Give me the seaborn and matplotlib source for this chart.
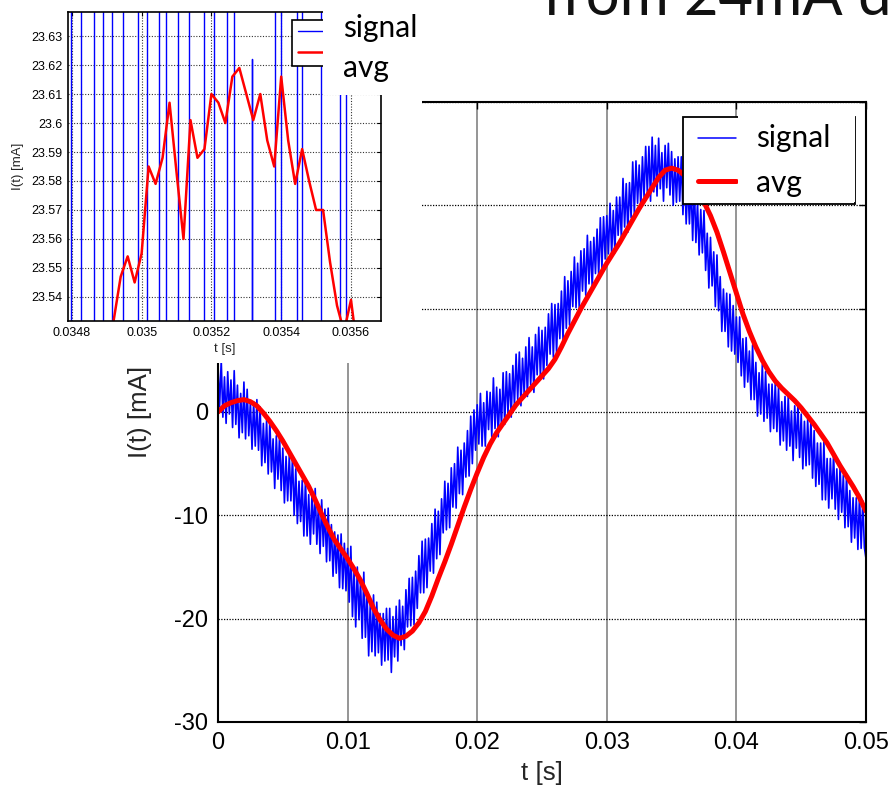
import numpy as np
import pandas as pd
import matplotlib
matplotlib.use("Agg")
import matplotlib.pyplot as plt
import seaborn as sns
from matplotlib.lines import Line2D
from matplotlib.patches import Rectangle

# ---------------- data ----------------
signal_mA = [
    4.6, 0.5, 5.0, -0.5, 3.4, -1.1, 3.9, -0.2,
    3.1, -1.5, 4.0, -1.2, 2.6, -2.5, 1.8, -2.0,
    2.9, -2.6, 2.2, -2.3, 1.0, -3.6, 1.0, -3.3,
    1.2, -3.7, 0.5, -5.2, -1.1, -4.9, -0.8, -6.0,
    -0.8, -5.8, -2.6, -7.4, -2.3, -6.5, -2.3, -7.6,
    -3.5, -8.8, -4.3, -8.6, -4.2, -8.6, -4.3, -10.0,
    -5.5, -10.8, -6.7, -10.6, -6.6, -12.0, -6.5, -12.0,
    -8.0, -12.8, -8.0, -11.8, -7.4, -12.8, -8.9, -13.7,
    -8.5, -13.0, -9.4, -14.5, -9.3, -14.4, -10.9, -15.9,
    -11.6, -15.6, -11.9, -17.0, -11.8, -17.1, -12.7, -17.3,
    -13.2, -18.4, -13.0, -19.8, -15.3, -20.8, -15.0, -20.1,
    -16.3, -21.9, -15.5, -21.8, -17.4, -23.6, -18.5, -23.2,
    -17.7, -23.6, -18.4, -23.3, -19.5, -24.5, -19.5, -24.1,
    -19.0, -24.0, -19.0, -25.2, -19.8, -23.7, -18.8, -24.1,
    -18.2, -22.6, -18.8, -23.0, -17.2, -20.8, -16.1, -20.7,
    -16.0, -20.6, -15.4, -19.0, -13.9, -17.5, -12.5, -17.5,
    -12.3, -17.0, -12.2, -15.4, -10.8, -15.6, -9.4, -14.2,
    -9.6, -13.8, -8.4, -11.7, -6.7, -11.4, -6.9, -11.2,
    -5.4, -9.2, -5.0, -9.3, -3.4, -7.9, -3.7, -8.0,
    -3.0, -6.3, -1.8, -6.2, -0.4, -5.0, 0.2, -3.7,
    0.7, -3.1, 1.8, -3.3, 0.9, -3.3, 2.0, -1.7,
    1.9, -2.4, 3.3, -1.6, 2.4, -2.4, 2.2, -1.4,
    3.8, -1.2, 3.9, -0.1, 3.7, -0.5, 4.5, 0.6,
    5.6, 1.2, 5.8, 0.6, 5.2, 1.7, 6.3, 1.5,
    7.2, 2.6, 6.3, 1.9, 7.5, 3.6, 8.2, 3.4,
    7.9, 3.2, 8.2, 4.5, 9.5, 5.6, 10.5, 5.3,
    10.4, 5.7, 10.5, 7.1, 11.7, 6.9, 13.1, 8.1,
    12.7, 8.4, 13.6, 10.2, 15.0, 10.1, 14.4, 10.0,
    15.6, 11.7, 15.8, 11.3, 17.1, 12.4, 16.5, 12.0,
    16.9, 13.4, 17.7, 13.1, 18.8, 13.9, 18.9, 14.8,
    19.0, 15.3, 20.2, 15.2, 19.5, 15.4, 20.8, 17.1,
    20.8, 16.7, 22.6, 17.9, 22.1, 17.4, 22.2, 18.8,
    24.2, 19.1, 24.3, 20.2, 23.9, 19.7, 24.7, 20.8,
    25.7, 21.2, 25.7, 20.4, 26.6, 21.3, 25.8, 20.9,
    26.5, 21.6, 25.1, 20.4, 25.8, 21.7, 26.0, 21.0,
    25.2, 20.0, 24.5, 20.3, 24.7, 20.4, 24.7, 19.1,
    23.6, 18.2, 22.3, 18.2, 22.1, 16.6, 22.1, 16.4,
    20.3, 15.2, 19.6, 15.4, 19.5, 13.7, 17.3, 12.0,
    16.9, 12.2, 15.5, 10.2, 15.2, 9.8, 13.1, 7.8,
    11.9, 7.8, 11.5, 6.3, 11.4, 5.9, 10.3, 5.6,
    9.2, 4.8, 9.2, 3.5, 7.1, 2.4, 7.2, 2.9,
    5.9, 1.2, 6.5, 1.2, 4.8, -0.4, 3.8, -0.2,
    4.6, -0.9, 3.9, -0.6, 2.7, -1.9, 2.7, -1.6,
    2.9, -1.9, 2.4, -3.2, 1.0, -2.8, 1.5, -3.7,
    1.6, -3.3, 0.1, -4.7, 0.6, -3.5, 0.8, -4.4,
    -0.2, -5.5, -0.9, -5.2, -0.7, -5.1, -0.7, -6.4,
    -1.8, -7.2, -3.0, -7.0, -3.0, -8.5, -2.9, -8.5,
    -4.5, -9.3, -4.5, -8.4, -4.0, -9.4, -5.5, -10.4,
    -5.2, -9.7, -6.1, -11.2, -6.0, -11.1, -7.6, -12.6,
    -8.3, -12.2, -8.3, -13.3, -8.0, -13.2, -8.6, -13.1,
    -14.2,
]
signal_t = np.linspace(0.0, 0.05, len(signal_mA))

avg_mA = [
    0.0, 0.6, 0.9, 1.1, 1.2, 1.0, 0.6, -0.1, -0.9, -1.8,
    -2.8, -3.9, -5.0, -6.1, -7.2, -8.5, -9.9, -11.2, -12.4, -13.3,
    -14.2, -15.2, -16.3, -17.6, -19.0, -20.1, -21.0, -21.6, -21.9, -21.7,
    -21.2, -20.4, -19.3, -17.8, -16.1, -14.5, -12.8, -11.0, -9.2, -7.5,
    -5.9, -4.4, -3.1, -2.0, -1.1, -0.2, 0.7, 1.4, 2.1, 2.8,
    3.5, 4.2, 5.1, 6.3, 7.6, 8.8, 10.0, 11.1, 12.2, 13.3,
    14.4, 15.4, 16.4, 17.5, 18.6, 19.7, 20.7, 21.7, 22.7, 23.4,
    23.6, 23.4, 22.9, 22.2, 21.3, 20.3, 19.0, 17.4, 15.5, 13.5,
    11.5, 9.5, 7.8, 6.3, 5.0, 3.9, 3.0, 2.3, 1.7, 1.1,
    0.4, -0.4, -1.2, -2.1, -3.0, -4.1, -5.2, -6.2, -7.2, -8.3,
    -9.6,
]
avg_t = np.linspace(0.0, 0.05, len(avg_mA))

main_xticks = [0.0, 0.01, 0.02, 0.03, 0.04, 0.05]
main_xticklabels = ["0", "0.01", "0.02", "0.03", "0.04", "0.05"]
main_yticks = [-30, -20, -10, 0, 10, 20, 30]
main_yticklabels = ["-30", "-20", "-10", "0", "10", "20", "30"]

# zoomed inset (around the peak)
inset_avg_mA = [
    23.50, 23.532, 23.547, 23.554, 23.545, 23.555, 23.585, 23.579, 23.588, 23.607,
    23.583, 23.560, 23.601, 23.588, 23.591, 23.610, 23.607, 23.600, 23.616, 23.619,
    23.610, 23.601, 23.610, 23.594, 23.585, 23.616, 23.594, 23.579, 23.591, 23.580,
    23.570, 23.570, 23.552, 23.537, 23.528, 23.539, 23.520,
]
inset_avg_t = np.linspace(0.0349, 0.03562, len(inset_avg_mA))

inset_sig_t = [
    0.03478, 0.034799, 0.034826, 0.034863, 0.034889, 0.034914, 0.034946, 0.034989,
    0.035014, 0.035049, 0.035071, 0.035103, 0.035137, 0.035180, 0.035206, 0.035246,
    0.035266, 0.035317, 0.0353175, 0.035383, 0.035400, 0.035446, 0.035460, 0.035514,
    0.035569, 0.035586, 0.03570,
]
inset_sig_mA = [
    21.0, 26.0, 21.0, 26.0, 21.0, 26.0, 21.0, 26.0,
    21.0, 26.0, 21.0, 26.0, 21.0, 26.0, 21.0, 26.0,
    21.0, 23.622, 21.0, 26.0, 21.0, 26.0, 21.0, 26.0,
    21.0, 26.0, 26.0,
]
inset_xticks = [0.0348, 0.0350, 0.0352, 0.0354, 0.0356]
inset_xticklabels = ["0.0348", "0.035", "0.0352", "0.0354", "0.0356"]
inset_yticks = [23.54, 23.55, 23.56, 23.57, 23.58, 23.59, 23.60, 23.61, 23.62, 23.63]
inset_yticklabels = ["23.54", "23.55", "23.56", "23.57", "23.58", "23.59",
                     "23.6", "23.61", "23.62", "23.63"]

legend_labels = ["signal", "avg"]
title_text = "from 24mA down"

# ---------------- style ----------------
sns.set_style("white")
plt.rcParams["font.family"] = ["Liberation Sans", "DejaVu Sans"]
SLIDE_FONT = ["Lato", "DejaVu Sans"]
BLUE = "#0000FF"
RED = "#FF0000"

W, H = 894, 791
fig = plt.figure(figsize=(W / 100, H / 100), dpi=100)
fig.patch.set_facecolor("white")


def fx(px):
    return px / W


def fy(py):
    return 1 - py / H


def frect(x0, y0, x1, y1, z):
    r = Rectangle((fx(x0), fy(y1)), fx(x1) - fx(x0), fy(y0) - fy(y1),
                  transform=fig.transFigure, facecolor="white",
                  edgecolor="none", zorder=z)
    fig.add_artist(r)


# ---------------- main axes ----------------
ax = fig.add_axes([fx(218), fy(722), fx(866) - fx(218), fy(102) - fy(722)])
ax.set_zorder(0)
sig_df = pd.DataFrame({"t": signal_t, "I": signal_mA})
avg_df = pd.DataFrame({"t": avg_t, "I": avg_mA})
sns.lineplot(data=sig_df, x="t", y="I", ax=ax, color=BLUE, linewidth=1.2,
             estimator=None, sort=False)
sns.lineplot(data=avg_df, x="t", y="I", ax=ax, color=RED, linewidth=3.6,
             estimator=None, sort=False)
ax.set_xlim(0, 0.05)
ax.set_ylim(-30, 30)
ax.set_xticks(main_xticks)
ax.set_xticklabels(main_xticklabels)
ax.set_yticks(main_yticks)
ax.set_yticklabels(main_yticklabels)
ax.tick_params(direction="in", top=True, right=True, length=5, width=1,
               labelsize=17, pad=7, colors="black")
ax.set_axisbelow(True)
ax.xaxis.grid(True, color="0.55", linewidth=1.3, linestyle="-")
ax.yaxis.grid(True, color="black", linewidth=0.9, linestyle=(0, (1, 1.2)))
for s in ax.spines.values():
    s.set_color("black")
    s.set_linewidth(1.5)
ax.set_xlabel("t [s]", fontsize=18.6, labelpad=5)
ax.set_ylabel("I(t) [mA]", fontsize=18.6, labelpad=16)

main_handles = [Line2D([], [], color=BLUE, linewidth=1.1),
                Line2D([], [], color=RED, linewidth=3.6)]
leg = ax.legend(main_handles, ["", ""], loc="upper left",
                bbox_to_anchor=((683 - 218) / 648, (722 - 117) / 620),
                borderaxespad=0, fontsize=10, borderpad=1.1, handleheight=0.77,
                labelspacing=2.04, handlelength=2.7, handletextpad=7.45,
                frameon=True, fancybox=False, framealpha=1, edgecolor="black")
leg.get_frame().set_linewidth(1.3)
# the slide's text box hides part of the legend frame
frect(738, 113, 855, 202, 1)

# ---------------- inset panel ----------------
frect(0, 0, 422, 363, 1)
axi = fig.add_axes([fx(68), fy(321), fx(381) - fx(68), fy(12) - fy(321)])
axi.set_zorder(2)
axi.set_facecolor("white")
sns.lineplot(x=inset_sig_t, y=inset_sig_mA, ax=axi, color=BLUE, linewidth=1.0,
             drawstyle="steps-post", estimator=None, sort=False)
sns.lineplot(x=inset_avg_t, y=inset_avg_mA, ax=axi, color=RED, linewidth=1.8,
             estimator=None, sort=False)
axi.set_xlim(0.034789, 0.035686)
axi.set_ylim(23.5317, 23.6383)
axi.set_xticks(inset_xticks)
axi.set_xticklabels(inset_xticklabels)
axi.set_yticks(inset_yticks)
axi.set_yticklabels(inset_yticklabels)
axi.tick_params(direction="in", top=True, right=True, length=3, width=0.8,
                labelsize=9, pad=4, colors="black")
axi.set_axisbelow(True)
axi.grid(True, color="0.2", linewidth=0.8, linestyle=(0, (1, 1.5)))
for s in axi.spines.values():
    s.set_color("black")
    s.set_linewidth(1.2)
axi.set_xlabel("t [s]", fontsize=9.5, labelpad=3)
axi.set_ylabel("I(t) [mA]", fontsize=9.5, labelpad=5)

inset_handles = [Line2D([], [], color=BLUE, linewidth=1.0),
                 Line2D([], [], color=RED, linewidth=1.8)]
legi = axi.legend(inset_handles, ["", ""], loc="upper left",
                  bbox_to_anchor=((292 - 68) / 313, (321 - 20) / 309),
                  borderaxespad=0, fontsize=10, borderpad=0.4,
                  handleheight=0.833, labelspacing=0.484, handlelength=2.5,
                  handletextpad=2.0, frameon=True, fancybox=False,
                  framealpha=1, edgecolor="black")
legi.get_frame().set_linewidth(1.2)
frect(323, 0, 422, 95, 3)

# ---------------- slide texts ----------------
for x, y, s in [(756, 147, legend_labels[0]), (756, 192, legend_labels[1]),
                (343, 37, legend_labels[0]), (343, 77, legend_labels[1])]:
    fig.text(fx(x), fy(y), s, fontsize=21.5, family=SLIDE_FONT,
             ha="left", va="baseline", color="black", zorder=5)

fig.text(fx(543), fy(15), title_text, fontsize=43, family=SLIDE_FONT,
         ha="left", va="baseline", color="#111111", zorder=5)

fig.savefig("out.png", dpi=100)
